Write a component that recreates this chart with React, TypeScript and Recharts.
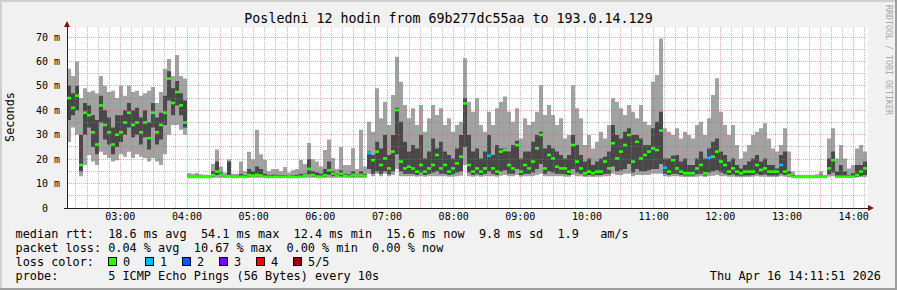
import React from "react";
import { ComposedChart, Area, Scatter, XAxis, YAxis, ReferenceLine } from "recharts";

const MONO = '"DejaVu Sans Mono", "Liberation Mono", monospace';

// ---------------- data ----------------
const startClock = "02:12";
const binMinutes = 3.6;
const spanMinutes = 720;
const xTickLabels = ["03:00", "04:00", "05:00", "06:00", "07:00", "08:00", "09:00", "10:00", "11:00", "12:00", "13:00", "14:00"];
const yTickValues = [0, 10, 20, 30, 40, 50, 60, 70];
const yTop = 74.1;

// five sorted pings per step (ms): lowest, 2nd, median, 4th, highest
const smokeHigh = [
  57, 54, 60, 45, 49, 47.5, 48, 47, 54, 50, 47.5, 48, 45, 50, 46, 50, 47.5, 48, 46, 47, 48, 49.5, 43, 47.5, 57, 61, 54, 62.6, 54, 53,
  14.3, 14.0, 14.3, 13.8, 13.6, 13.6, 18, 24, 17, 14.5, 20, 14, 14, 19, 15, 23, 20, 32, 22, 19.6,
  15, 16, 16, 15, 16.8, 14.5, 15.5, 16, 19.6, 18, 26.6, 20, 19, 17, 23.7, 28, 20.5, 16, 25, 17.6, 17.6, 24.5, 16, 32, 17,
  35.3, 31.2, 49.0, 36.7, 43.5, 34.0, 46.3, 61.9, 51.7, 42.2, 36.7, 40.8, 34.0, 42.2, 31.2, 36.7, 42.2, 38.1, 40.8, 34.0, 36.7, 31.2, 34.0, 35.3, 61.3,
  43.5, 39.4, 44.9, 34.0, 31.2, 39.4, 34.0, 40.8, 43.5, 45.6, 39.4, 35.3, 40.8, 28.5, 36.7, 34.0, 35.3, 39.4, 50.3, 38.1, 42.2, 38.1, 34.0, 36.7, 28.5,
  29.9, 50.3, 40.8, 36.7, 25.8, 29.9, 24.4, 27.1, 31.2, 28.5, 34.0, 44.9, 43.5, 40.8, 38.1, 42.2, 39.4, 36.7, 42.2, 35.3, 34.0, 51.7, 54.4, 69.4, 32.6,
  31.2, 29.9, 32.6, 28.5, 31.2, 29.9, 28.5, 34.0, 35.3, 29.9, 36.7, 46.3, 53.1, 39.4, 34.0, 29.9, 34.0, 25.8, 20.3, 23.1, 25.8, 29.9, 31.2, 32.6, 34.7,
  28.5, 24.4, 23.1, 25.8, 32.6, 23.1, 14.9, 13.6, 13.6, 13.6, 13.6, 13.6, 13.8, 14.9, 13.6, 28.5, 32.6, 20.3, 25.8, 20.3, 16.2, 17.6, 24.4, 25.8, 23.1,
];
const smokeHighMid = [
  50, 47, 50, 30, 43, 42, 38, 36, 46, 40, 37, 33, 38, 38, 40, 43, 40, 41, 37, 40, 35, 43, 37, 39, 46, 56, 49, 52, 47, 44,
  13.2, 13.1, 13.2, 13.1, 13.0, 13.0, 15, 19, 14.5, 13.2, 19, 13.2, 13.2, 14, 13.4, 16, 15, 17, 16, 14,
  13.4, 13.6, 13.6, 13.4, 13.5, 13.2, 13.4, 13.6, 14, 14, 20, 15, 14.5, 14, 16, 19, 15, 14, 15.5, 14, 13.8, 15, 13.6, 15, 13.8,
  23.1, 21.7, 27.1, 24.4, 29.9, 21.7, 29.9, 41, 35.3, 27.1, 23.1, 25.8, 24.4, 29.9, 20.3, 23.1, 28.5, 24.4, 27.1, 23.1, 21.7, 20.3, 24.4, 29.9, 44.9,
  29.9, 23.1, 24.4, 20.3, 23.1, 29.9, 21.7, 25.8, 24.4, 24.4, 23.1, 25.8, 27.5, 20.3, 23.1, 23.1, 27.1, 29.9, 31.2, 24.4, 25.8, 24.4, 23.1, 21.7, 20.3,
  21.7, 29.9, 25.8, 21.7, 19.0, 20.3, 17.6, 19.0, 20.3, 21, 23.1, 34.0, 29.9, 28.5, 31.2, 32.6, 29.9, 29.9, 28.5, 25.8, 25.8, 32.6, 35.3, 39.4, 20.3,
  20.3, 21.5, 21.7, 19.0, 20.3, 17.6, 17.6, 20.3, 23.1, 20.3, 24.4, 27.1, 28.5, 23.1, 21.7, 19.0, 20.3, 17.6, 16.2, 17.6, 19.0, 20.3, 21.7, 19.0, 20.3,
  17.6, 17.6, 16.2, 21.7, 23.1, 14.9, 13.5, 13.0, 13.0, 13.0, 13.0, 13.0, 13.1, 13.6, 13.0, 20.3, 23.1, 14.9, 17.6, 14.9, 13.5, 14.2, 17.6, 17.6, 19.0,
];
const medianRtt = [
  45, 41, 46, 17.6, 39, 38, 31, 26, 42, 34, 31, 26, 30, 31, 35, 39, 34, 35, 31, 35, 28.6, 39, 31, 34, 39, 53, 43, 47.5, 42, 35,
  12.7, 12.7, 12.7, 12.7, 12.7, 12.7, 13.5, 14.9, 13.6, 12.9, 13.0, 12.7, 12.7, 12.8, 12.7, 13.5, 13.2, 13.6, 13.3, 12.8,
  12.7, 12.7, 12.8, 12.7, 12.8, 12.7, 12.7, 12.7, 12.8, 13.3, 16, 13.5, 12.9, 12.8, 13.4, 15.5, 14, 13.2, 14, 13.2, 12.9, 13.5, 13.0, 13.5, 13.0,
  22.4, 19.6, 23.1, 17.6, 20.3, 16.2, 23.1, 40.1, 19.0, 16.2, 16.9, 16.2, 14.9, 17.6, 14.9, 16.2, 17.6, 21.7, 16.2, 17.6, 14.9, 16.2, 18.3, 21.0, 42.8,
  17.6, 14.9, 16.2, 14.9, 16.2, 21.4, 16.2, 14.9, 23.1, 23.7, 17.6, 16.2, 25.8, 14.9, 17.6, 16.2, 19.0, 24.4, 29.9, 16.2, 21.7, 20.3, 16.9, 16.2, 16.2,
  14.9, 25.8, 19.0, 16.2, 14.2, 14.9, 14.2, 14.9, 14.9, 19.0, 16.2, 26.5, 20.3, 23.1, 25.8, 29.9, 19.0, 27.1, 20.3, 21.7, 23.1, 24.4, 23.7, 31.7, 16.5,
  14.9, 19.6, 16.2, 14.9, 14.2, 14.2, 14.2, 16.2, 17.6, 14.2, 20.6, 21.0, 23.1, 19.0, 17.6, 14.9, 16.2, 14.9, 14.2, 14.9, 14.9, 14.9, 17.6, 15.6, 16.2,
  14.9, 14.9, 14.9, 17.6, 14.9, 13.5, 12.8, 12.7, 12.7, 12.7, 12.7, 12.7, 12.7, 12.9, 12.7, 16.2, 19.6, 12.8, 12.8, 12.8, 12.8, 12.8, 13.5, 14.9, 16.2,
];
const smokeLowMid = [
  36, 38, 40, 15, 30, 33, 25, 22, 35, 28, 26, 22, 25, 27, 30, 33, 29, 30, 26, 29, 24, 33, 26, 28, 34, 44, 38, 42, 38, 33,
  12.6, 12.6, 12.6, 12.6, 12.6, 12.6, 12.9, 13.5, 13.0, 12.6, 12.7, 12.6, 12.6, 12.6, 12.6, 12.9, 12.7, 13.0, 12.8, 12.6,
  12.6, 12.6, 12.6, 12.6, 12.6, 12.6, 12.6, 12.6, 12.6, 12.8, 13.8, 12.9, 12.7, 12.6, 12.8, 13.6, 13.0, 12.8, 13.0, 12.8, 12.7, 12.9, 12.7, 12.9, 12.7,
  16, 14, 15, 14, 15, 13.8, 15, 22, 15, 14, 14, 14, 13.5, 14.5, 13.5, 14, 14.5, 15, 14, 14, 13.5, 13.8, 14.5, 15, 25,
  14.5, 13.5, 14, 13.5, 14, 15, 14, 13.5, 15, 15.5, 14, 14, 16, 13.5, 14, 14, 14.5, 16, 18, 14, 15, 14.5, 14, 14, 13.8,
  13.5, 16, 14.5, 14, 13.3, 13.5, 13.3, 13.5, 13.5, 14, 14, 17, 15, 15.5, 16, 18, 14.5, 16, 15, 15, 15.5, 16, 16, 18, 14,
  13.5, 14, 14, 13.5, 13.3, 13.3, 13.3, 13.8, 14, 13.3, 14.5, 15, 15.5, 14.5, 14, 13.5, 13.8, 13.3, 13.2, 13.3, 13.3, 13.5, 14, 13.5, 13.8,
  13.3, 13.3, 13.3, 14, 13.5, 13, 12.6, 12.6, 12.6, 12.6, 12.6, 12.6, 12.6, 12.6, 12.6, 13.8, 14.5, 12.6, 12.6, 12.6, 12.6, 12.6, 12.8, 13.2, 13.5,
];
const smokeLow = [
  27, 33, 30, 13, 17.6, 21.7, 19, 17.6, 23, 21.7, 20.5, 19, 19.5, 22, 21, 23, 20.5, 22, 21, 20.5, 19, 20.5, 19, 17.6, 22, 30, 34, 34, 32, 30,
  12.4, 12.4, 12.4, 12.4, 12.4, 12.4, 12.4, 12.4, 12.4, 12.4, 12.4, 12.4, 12.4, 12.4, 12.4, 12.4, 12.4, 12.4, 12.4, 12.4,
  12.4, 12.4, 12.4, 12.4, 12.4, 12.4, 12.4, 12.4, 12.4, 12.4, 12.4, 12.4, 12.4, 12.4, 12.4, 12.4, 12.4, 12.4, 12.4, 12.4, 12.4, 12.4, 12.4, 12.4, 12.4,
  14, 13, 14, 13, 14, 13, 13.5, 16, 13, 13, 13, 13, 12.8, 13, 12.8, 13, 13, 13, 13, 13, 12.8, 12.8, 13, 13.2, 17.6,
  13, 12.8, 13, 12.8, 13, 13, 13, 12.8, 13.2, 13.5, 13, 13, 13.5, 12.8, 13, 13, 13, 13.5, 14, 13, 13, 13, 13, 13, 12.8,
  12.8, 13.5, 13, 13, 12.7, 12.8, 12.7, 12.8, 12.8, 13, 13, 14, 13.5, 13.5, 14, 14, 13, 13.5, 13.5, 13.5, 13.5, 14, 14, 14, 13,
  12.8, 13, 13, 12.8, 12.7, 12.7, 12.7, 12.8, 13, 12.7, 13, 13.2, 13.5, 13, 13, 12.8, 12.8, 12.7, 12.6, 12.7, 12.7, 12.8, 13, 12.8, 12.8,
  12.7, 12.7, 12.7, 13, 12.8, 12.6, 12.4, 12.4, 12.4, 12.4, 12.4, 12.4, 12.4, 12.4, 12.4, 12.8, 13, 12.4, 12.4, 12.4, 12.4, 12.4, 12.5, 12.6, 12.7,
];
// steps where 1 of 5 pings was lost
const oneLossSteps = [75, 105, 149, 160, 178];

const titleText = "Posledni 12 hodin from 69b277dc55aa to 193.0.14.129";
const yAxisTitle = "Seconds";
const watermark = "RRDTOOL / TOBI OETIKER";
const legendLines = [
  "median rtt:  18.6 ms avg  54.1 ms max  12.4 ms min  15.6 ms now  9.8 ms sd  1.9   am/s",
  "packet loss: 0.04 % avg  10.67 % max  0.00 % min  0.00 % now",
];
const lossColorLabel = "loss color:";
const lossColors = [
  { label: "0", color: "#26ff00" },
  { label: "1", color: "#00b8ff" },
  { label: "2", color: "#0059ff" },
  { label: "3", color: "#7e00ff" },
  { label: "4", color: "#ff0000" },
  { label: "5/5", color: "#a00000" },
];
const probeLine = "probe:       5 ICMP Echo Pings (56 Bytes) every 10s";
const dateLine = "Thu Apr 16 14:11:51 2026";

// ---------------- derived tables ----------------
const toMin = (s: string) => {
  const [h, m] = s.split(":").map(Number);
  return h * 60 + m;
};
const startMin = toMin(startClock);
const xTicks = xTickLabels.map((l) => toMin(l) - startMin);

const minorX: number[] = [];
const majorX: number[] = [];
for (let c = startMin + 1; c < startMin + spanMinutes; c++) {
  if (c % 10 === 0) (c % 30 === 0 ? majorX : minorX).push(c - startMin);
}
const majorY = yTickValues.filter((v) => v > 0);
const minorY = yTickValues.map((v) => v + 5).filter((v) => v < yTop);

const rows: any[] = smokeHigh.map((_, i) => ({
  t: i * binMinutes,
  outer: [smokeLow[i], smokeHigh[i]],
  inner: [smokeLowMid[i], smokeHighMid[i]],
}));
const last = rows[rows.length - 1];
rows.push({ t: spanMinutes, outer: last.outer, inner: last.inner });

const medPts = medianRtt.map((v, i) => ({ t: i * binMinutes, med: v, i }));
const medGreen = medPts.filter((p) => !oneLossSteps.includes(p.i));
const medCyan = medPts.filter((p) => oneLossSteps.includes(p.i));

// ---------------- renderers ----------------
const MedTick = (p: any) => {
  if (p.cx == null || p.cy == null || isNaN(p.cy)) return null;
  return <rect x={p.cx} y={p.cy - 1.3} width={4} height={2.6} fill={p.fill} />;
};

const YTick = (p: any) => {
  const v = p.payload.value;
  const label = v === 0 ? "0" : `${v} m`;
  const x = v === 0 ? p.x - 19 : p.x - 7;
  return (
    <text x={x} y={p.y + 3.6} textAnchor="end" fontFamily={MONO} fontSize={10} fill="#000">
      {label}
    </text>
  );
};

const XTick = (p: any) => {
  const idx = xTicks.findIndex((t) => Math.abs(t - p.payload.value) < 0.01);
  return (
    <text x={p.x} y={p.y + 12} textAnchor="middle" fontFamily={MONO} fontSize={10} fill="#000">
      {xTickLabels[idx]}
    </text>
  );
};

const gridMinor = { stroke: "#808080", strokeOpacity: 0.5, strokeDasharray: "1 1", shapeRendering: "crispEdges" } as any;
const gridMajor = { stroke: "#e05050", strokeOpacity: 0.5, strokeDasharray: "1 1", shapeRendering: "crispEdges" } as any;
const axisStyle = { stroke: "#202020", strokeWidth: 1, shapeRendering: "crispEdges" } as any;

export default function App() {
  const lineY = [237.5, 251.5, 265.5, 279.5];
  const txt = { fontFamily: MONO, fontSize: 11.85, fill: "#000", style: { whiteSpace: "pre" as const } };
  return (
    <div style={{ position: "absolute", left: 0, top: 0, width: 897, height: 290, background: "#f1f1f1", overflow: "hidden" }}>
      <div style={{ position: "absolute", left: 67, top: 27, width: 801, height: 181, background: "#ffffff" }} />
      <div style={{ position: "absolute", left: 0, top: 0 }}>
        <ComposedChart width={897} height={290} data={rows} margin={{ top: 27, right: 30, bottom: 52, left: 7 }}>
          <XAxis
            type="number"
            dataKey="t"
            domain={[0, spanMinutes]}
            ticks={xTicks}
            interval={0}
            tick={XTick}
            tickSize={0}
            tickMargin={0}
            axisLine={false}
            tickLine={false}
            height={30}
            allowDataOverflow
          />
          <YAxis
            type="number"
            domain={[0, yTop]}
            ticks={yTickValues}
            interval={0}
            tick={YTick}
            tickSize={0}
            tickMargin={0}
            axisLine={false}
            tickLine={false}
            width={60}
            allowDataOverflow
          />
          <Area dataKey="outer" type="stepAfter" stroke="none" fill="#a2a2a2" fillOpacity={1} isAnimationActive={false} dot={false} activeDot={false} />
          <Area dataKey="inner" type="stepAfter" stroke="none" fill="#484848" fillOpacity={1} isAnimationActive={false} dot={false} activeDot={false} />
          <Scatter data={medGreen} dataKey="med" fill="#26ff00" shape={MedTick} isAnimationActive={false} />
          <Scatter data={medCyan} dataKey="med" fill="#00b8ff" shape={MedTick} isAnimationActive={false} />
          {minorX.map((v) => (
            <ReferenceLine key={"mx" + v} x={v} {...gridMinor} />
          ))}
          {minorY.map((v) => (
            <ReferenceLine key={"my" + v} y={v} {...gridMinor} />
          ))}
          {majorX.map((v) => (
            <ReferenceLine key={"Mx" + v} x={v} {...gridMajor} />
          ))}
          {majorY.map((v) => (
            <ReferenceLine key={"My" + v} y={v} {...gridMajor} />
          ))}
          <ReferenceLine segment={[{ x: -2.7, y: 0 }, { x: 720.9, y: 0 }]} ifOverflow="visible" {...axisStyle} />
          <ReferenceLine segment={[{ x: 0, y: 0 }, { x: 0, y: yTop }]} ifOverflow="visible" {...axisStyle} />
        </ComposedChart>
      </div>
      <svg width={897} height={290} style={{ position: "absolute", left: 0, top: 0, pointerEvents: "none" }}>
        {/* frame shading */}
        <rect x={0} y={0} width={897} height={2} fill="#cfcfcf" />
        <rect x={0} y={0} width={2} height={290} fill="#cfcfcf" />
        <rect x={0} y={288} width={897} height={2} fill="#9e9e9e" />
        <rect x={895} y={0} width={2} height={290} fill="#9e9e9e" />
        {/* axis arrows */}
        <polygon points="868,205 874,208 868,211" fill="#801010" />
        <polygon points="64,27 67,21 70,27" fill="#801010" />
        {/* title */}
        <text x={448.5} y={23} textAnchor="middle" fontFamily={MONO} fontSize={13.3} fill="#000" style={{ whiteSpace: "pre" }}>
          {titleText}
        </text>
        {/* y axis title */}
        <text transform="translate(14.3,117) rotate(-90)" textAnchor="middle" {...txt}>
          {yAxisTitle}
        </text>
        {/* watermark */}
        <text
          transform="translate(885.5,5) rotate(90)"
          fontFamily={MONO}
          fontSize={9.5}
          fill="#a8a8a8"
          textLength={110}
          lengthAdjust="spacingAndGlyphs"
          style={{ whiteSpace: "pre" }}
        >
          {watermark}
        </text>
        {/* legend */}
        <text x={15.5} y={lineY[0]} {...txt}>{legendLines[0]}</text>
        <text x={15.5} y={lineY[1]} {...txt}>{legendLines[1]}</text>
        <text x={15.5} y={lineY[2]} {...txt}>{lossColorLabel}</text>
        {lossColors.map((c, k) => (
          <g key={c.label}>
            <rect x={108.5 + 37 * k} y={257.5} width={8} height={8} fill={c.color} stroke="#000" strokeWidth={1} />
            <text x={123 + 37 * k} y={lineY[2]} {...txt}>{c.label}</text>
          </g>
        ))}
        <text x={15.5} y={lineY[3]} {...txt}>{probeLine}</text>
        <text x={881} y={lineY[3]} textAnchor="end" {...txt}>{dateLine}</text>
      </svg>
    </div>
  );
}
